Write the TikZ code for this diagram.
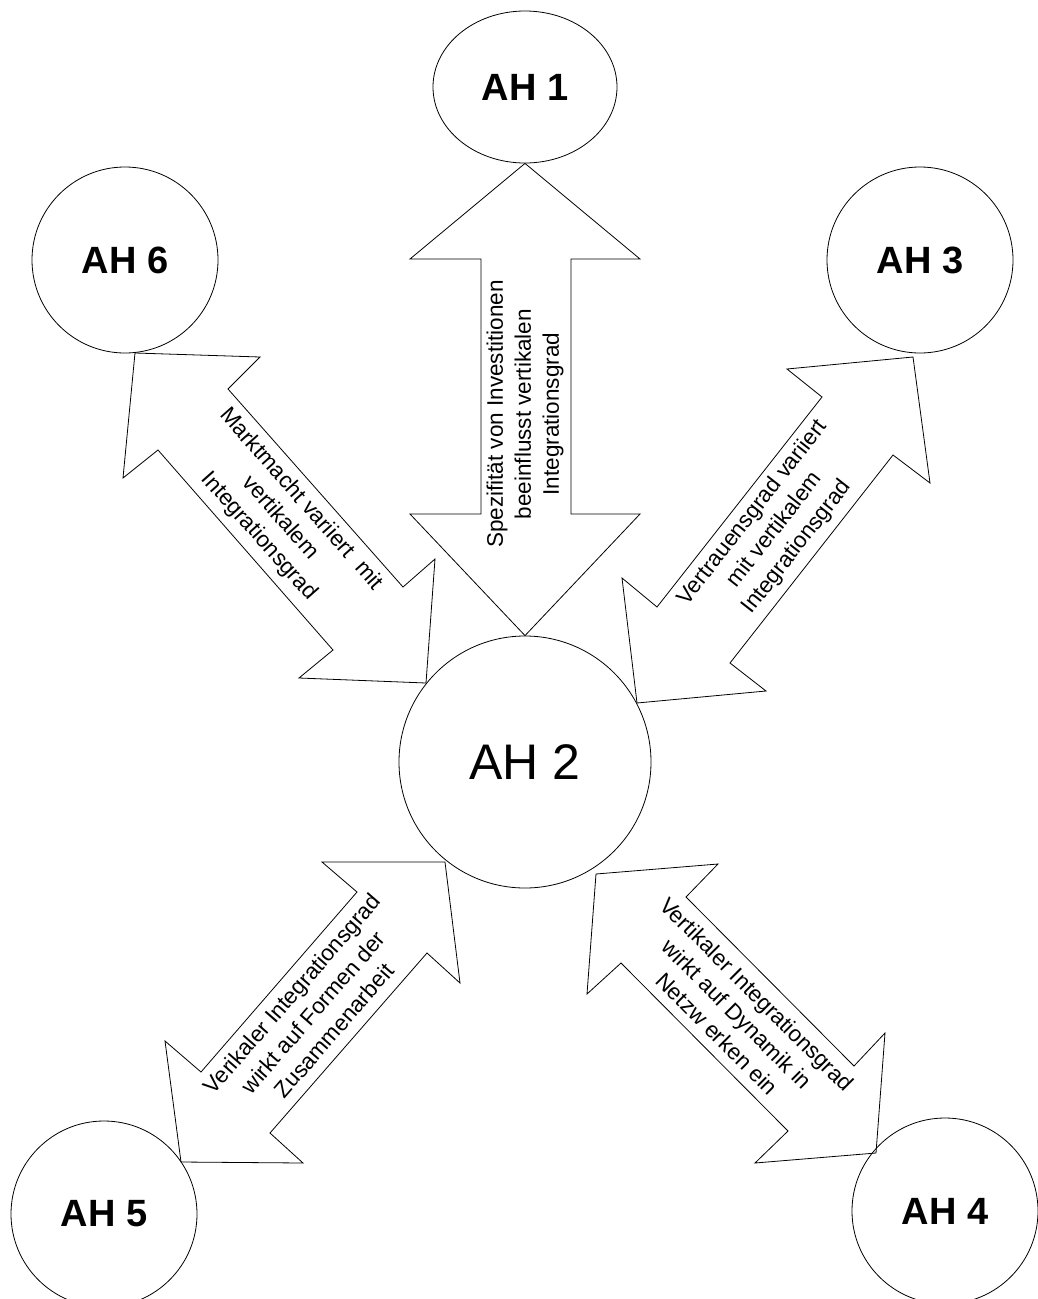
\documentclass[tikz,border=0pt]{standalone}
\usepackage{fontspec}
\setmainfont{Liberation Sans}
\usetikzlibrary{shapes.geometric}

\tikzset{
  hub/.style={draw, line width=0.8pt, circle, minimum size=186pt, inner sep=0pt,
              font=\fontsize{38}{44}\selectfont\bfseries},
  core/.style={draw, line width=0.8pt, circle, minimum size=252pt, inner sep=0pt,
               font=\fontsize{50}{58}\selectfont},
  blockarrow/.style={draw, line width=0.8pt, line join=miter},
  arrowtext/.style={align=center, inner sep=0pt,
                    font=\fontsize{22.5}{28}\selectfont}
}

\begin{document}
\begin{tikzpicture}[x=1pt, y=-1pt]
\useasboundingbox (0,0) rectangle (1037,1299);

% actors
\node[draw, line width=0.8pt, ellipse, minimum width=184pt, minimum height=152pt,
      inner sep=0pt, font=\fontsize{38}{44}\selectfont\bfseries] (ah1) at (525,87) {AH 1};
\node[core] (ah2) at (525,762) {AH 2};
\node[hub] (ah3) at (920,260) {AH 3};
\node[hub] (ah4) at (945,1211) {AH 4};
\node[hub] (ah5) at (104,1214) {AH 5};
\node[hub] (ah6) at (125,260) {AH 6};

% AH 1 <-> AH 2
\draw[blockarrow] (ah1.south) -- (640,259) -- (571,259) -- (571,514) -- (640,514)
  -- (ah2.north) -- (410,514) -- (481,514) -- (481,259) -- (410,259) -- cycle;
\node[arrowtext, rotate=90] (t1) at (525,414)
  {Spezifität von Investitionen\\beeinflusst vertikalen\\Integrationsgrad};

% AH 6 <-> AH 2
\draw[blockarrow] (135,353) -- (260,357) -- (228,389) -- (403,587) -- (435,559)
  -- (426,683) -- (299,678) -- (333,650) -- (158,450) -- (123,478) -- cycle;
\node[arrowtext, rotate=-48.5] (t6) at (280,518)
  {Marktmacht variiert~ mit\\vertikalem\\Integrationsgrad};

% AH 3 <-> AH 2
\draw[blockarrow] (913,357) -- (787,369) -- (822,397) -- (657,607) -- (622,578)
  -- (637,703) -- (766,691) -- (730,663) -- (893,455) -- (930,483) -- cycle;
\node[arrowtext, rotate=52] (t3) at (775,530)
  {Vertrauensgrad variiert\\mit vertikalem\\Integrationsgrad};

% AH 2 <-> AH 5
\draw[blockarrow] (445,862) -- (322,862) -- (357,892) -- (201,1072) -- (165,1041)
  -- (181,1162) -- (303,1163) -- (270,1133) -- (427,953) -- (460,983) -- cycle;
\node[arrowtext, rotate=49] (t5) at (313,1012)
  {Verikaler Integrationsgrad\\wirkt auf Formen der\\Zusammenarbeit};

% AH 2 <-> AH 4
\draw[blockarrow] (596,874) -- (718,864) -- (686,897) -- (854,1066) -- (885,1033)
  -- (876,1153) -- (755,1163) -- (788,1131) -- (621,963) -- (587,994) -- cycle;
\node[arrowtext, rotate=-45] (t4) at (737,1014)
  {Vertikaler Integrationsgrad\\wirkt auf Dynamik in\\Netzw erken ein};
\end{tikzpicture}
\end{document}
